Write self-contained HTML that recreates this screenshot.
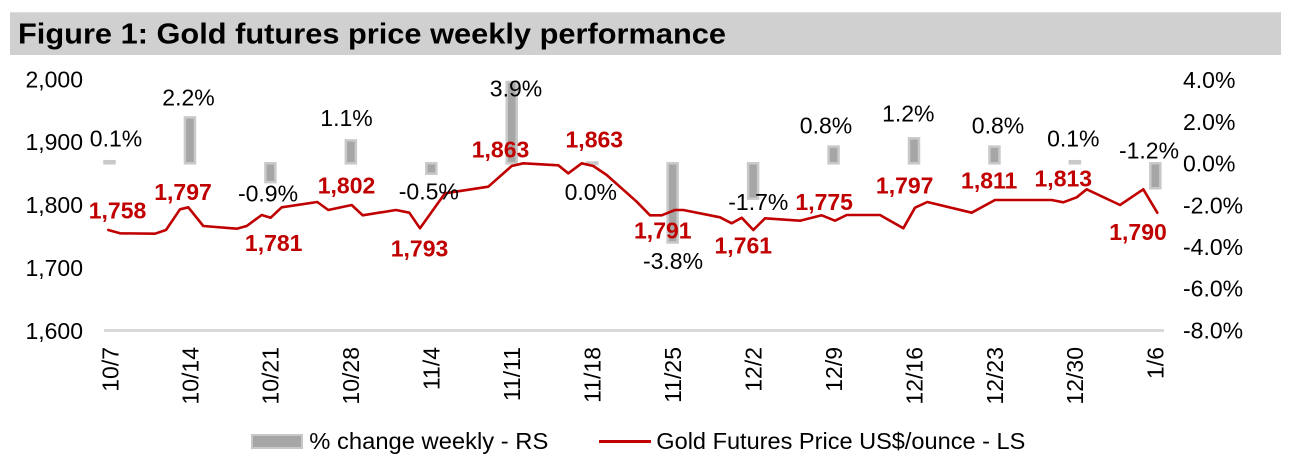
<!DOCTYPE html>
<html>
<head>
<meta charset="utf-8">
<style>
  html, body { margin: 0; padding: 0; background: #ffffff; }
  svg { display: block; }
  text { font-family: "Liberation Sans", Arial, sans-serif; }
  .ax { font-size: 23px; fill: #000; }
  .pl { font-size: 23px; fill: #000; text-anchor: middle; }
  .rl { font-size: 23px; fill: #c00000; font-weight: bold; text-anchor: middle; }
  .xl { font-size: 23px; fill: #000; text-anchor: end; }
  .bar { fill: #a6a6a6; stroke: #c9c9c9; stroke-width: 2.5; }
</style>
</head>
<body>
<svg width="1299" height="466" viewBox="0 0 1299 466" xmlns="http://www.w3.org/2000/svg">
  <rect x="0" y="0" width="1299" height="466" fill="#ffffff"/>
  <!-- Title bar -->
  <rect x="10" y="12.3" width="1271" height="42.7" fill="#d0d0d0"/>
  <text x="18" y="43.3" font-size="29" font-weight="bold" fill="#000" textLength="708" lengthAdjust="spacingAndGlyphs">Figure 1: Gold futures price weekly performance</text>

  <!-- Left axis labels -->
  <g class="ax" text-anchor="end">
    <text x="83" y="87.3">2,000</text>
    <text x="83" y="150.2">1,900</text>
    <text x="83" y="213.1">1,800</text>
    <text x="83" y="275.9">1,700</text>
    <text x="83" y="338.8">1,600</text>
  </g>
  <!-- Right axis labels -->
  <g class="ax" text-anchor="start">
    <text x="1183" y="88.2">4.0%</text>
    <text x="1183" y="129.9">2.0%</text>
    <text x="1183" y="171.6">0.0%</text>
    <text x="1183" y="213.3">-2.0%</text>
    <text x="1183" y="255">-4.0%</text>
    <text x="1183" y="296.7">-6.0%</text>
    <text x="1183" y="338.4">-8.0%</text>
  </g>

  <!-- Baseline axis -->
  <line x1="104" y1="330.5" x2="1164" y2="330.5" stroke="#d9d9d9" stroke-width="3"/>

  <!-- Bars -->
  <rect class="bar" x="104.5" y="161.2" width="10" height="2.1"/>
  <rect class="bar" x="184.95" y="117.4" width="10" height="45.9"/>
  <rect class="bar" x="265.4" y="163.3" width="10" height="18.8"/>
  <rect class="bar" x="345.85" y="140.4" width="10" height="22.9"/>
  <rect class="bar" x="426.3" y="163.3" width="10" height="10.4"/>
  <rect class="bar" x="506.75" y="82.0" width="10" height="81.3"/>
  <rect class="bar" x="587.2" y="162.5" width="10" height="1.6"/>
  <rect class="bar" x="667.65" y="163.3" width="10" height="79.2"/>
  <rect class="bar" x="748.1" y="163.3" width="10" height="35.4"/>
  <rect class="bar" x="828.55" y="146.6" width="10" height="16.7"/>
  <rect class="bar" x="909" y="138.3" width="10" height="25"/>
  <rect class="bar" x="989.45" y="146.6" width="10" height="16.7"/>
  <rect class="bar" x="1069.9" y="161.2" width="10" height="2.1"/>
  <rect class="bar" x="1150.35" y="163.3" width="10" height="25"/>

  <!-- Price line -->
  <polyline fill="none" stroke="#c00000" stroke-width="2.6" stroke-linejoin="round" stroke-linecap="round"
    points="108.3,230 120,233.3 155,233.7 166,230 180,209.3 188.3,207.3 203.3,226 236.7,228.7 246.7,226 261.7,215 270.7,217.7 281.7,207.3 317.3,202 328.3,210 351.7,205 362.7,215.3 396,210 409.3,212.7 420,228.3 445,193.3 488.3,186.7 511.7,166 523.3,163.3 558.3,165.3 568.3,173.3 581.7,163.3 593.3,166 606.7,175 636.7,201.7 650,215.3 661.7,215.3 675,210 683.3,210 720,217.3 731.7,223.3 741.7,217.7 753.3,230 765,218.3 800,220.7 821.7,215.3 835,220.7 846.7,215 880,215 903.3,228.3 915,207.7 927.3,202 971.7,212.7 995,200 1051.7,200 1063.3,202.3 1076.7,197.3 1086.7,189.3 1120,205 1143.3,189.3 1157.3,212.7"/>

  <!-- Percent labels -->
  <text class="pl" x="116" y="146.3">0.1%</text>
  <text class="pl" x="188.5" y="105.3">2.2%</text>
  <text class="pl" x="268" y="201.5">-0.9%</text>
  <text class="pl" x="346.5" y="125.8">1.1%</text>
  <text class="pl" x="428.8" y="199.5">-0.5%</text>
  <text class="pl" x="516" y="96.5">3.9%</text>
  <text class="pl" x="590.8" y="200">0.0%</text>
  <text class="pl" x="673" y="269">-3.8%</text>
  <text class="pl" x="758.3" y="210">-1.7%</text>
  <text class="pl" x="826" y="133.3">0.8%</text>
  <text class="pl" x="908.3" y="121.6">1.2%</text>
  <text class="pl" x="998" y="133.3">0.8%</text>
  <text class="pl" x="1073.3" y="146.6">0.1%</text>
  <text class="pl" x="1149" y="158.3">-1.2%</text>

  <!-- Price labels -->
  <text class="rl" x="117.5" y="218.3">1,758</text>
  <text class="rl" x="183" y="200">1,797</text>
  <text class="rl" x="273.7" y="251">1,781</text>
  <text class="rl" x="346.5" y="193.3">1,802</text>
  <text class="rl" x="419.5" y="256.6">1,793</text>
  <text class="rl" x="500.5" y="157.3">1,863</text>
  <text class="rl" x="594.3" y="147.3">1,863</text>
  <text class="rl" x="662.8" y="238.3">1,791</text>
  <text class="rl" x="743.3" y="253.3">1,761</text>
  <text class="rl" x="824.2" y="210">1,775</text>
  <text class="rl" x="904.7" y="193.3">1,797</text>
  <text class="rl" x="989.2" y="188.3">1,811</text>
  <text class="rl" x="1063.3" y="186.6">1,813</text>
  <text class="rl" x="1138" y="240">1,790</text>

  <!-- X axis labels (rotated) -->
  <text class="xl" transform="translate(118.3,347) rotate(-90)">10/7</text>
  <text class="xl" transform="translate(198.3,347) rotate(-90)">10/14</text>
  <text class="xl" transform="translate(278.7,347) rotate(-90)">10/21</text>
  <text class="xl" transform="translate(359.2,347) rotate(-90)">10/28</text>
  <text class="xl" transform="translate(439.6,347) rotate(-90)">11/4</text>
  <text class="xl" transform="translate(520.1,347) rotate(-90)">11/11</text>
  <text class="xl" transform="translate(600.5,347) rotate(-90)">11/18</text>
  <text class="xl" transform="translate(681,347) rotate(-90)">11/25</text>
  <text class="xl" transform="translate(761.4,347) rotate(-90)">12/2</text>
  <text class="xl" transform="translate(841.9,347) rotate(-90)">12/9</text>
  <text class="xl" transform="translate(922.3,347) rotate(-90)">12/16</text>
  <text class="xl" transform="translate(1002.8,347) rotate(-90)">12/23</text>
  <text class="xl" transform="translate(1083.2,347) rotate(-90)">12/30</text>
  <text class="xl" transform="translate(1163.7,347) rotate(-90)">1/6</text>

  <!-- Legend -->
  <rect x="252" y="435" width="50" height="13" fill="#a6a6a6" stroke="#c8c8c8" stroke-width="2"/>
  <text x="309.3" y="449" font-size="23.5" fill="#000" textLength="239" lengthAdjust="spacingAndGlyphs">% change weekly - RS</text>
  <line x1="599" y1="441.5" x2="651" y2="441.5" stroke="#c00000" stroke-width="3"/>
  <text x="656.3" y="449" font-size="23.5" fill="#000" textLength="369" lengthAdjust="spacingAndGlyphs">Gold Futures Price US$/ounce - LS</text>
</svg>
</body>
</html>
